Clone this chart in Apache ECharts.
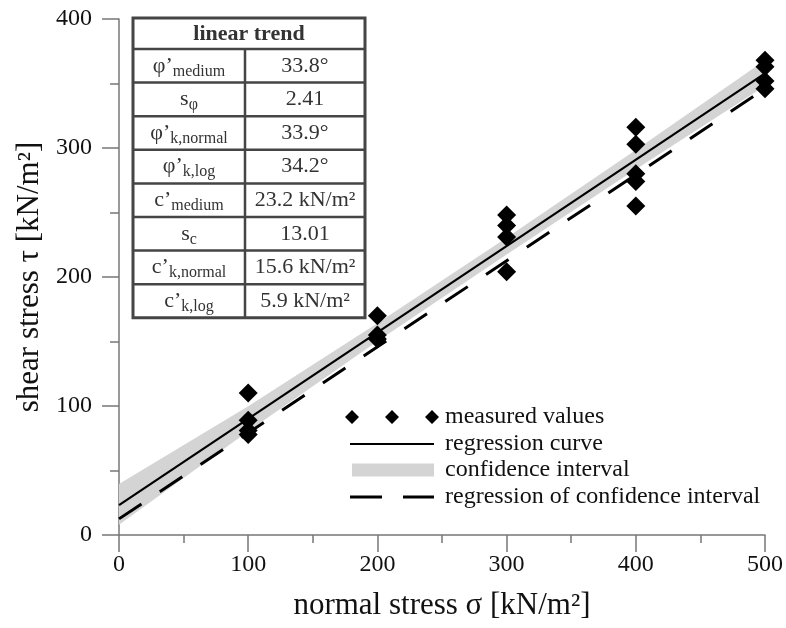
<!DOCTYPE html>
<html>
<head>
<meta charset="utf-8">
<script src="https://cdn.jsdelivr.net/npm/echarts@6/dist/echarts.min.js"></script>
<style>html,body{margin:0;padding:0;background:#fff;}#c{width:786px;height:628px;}</style>
</head>
<body>
<div id="c"></div>
<script>
// ---- data ----
const measuredX = [100,100,100,100, 200,200,200, 300,300,300,300, 400,400,400,400,400, 500,500,500,500];
const measuredY = [110,89,81,78, 170,155,152, 248,240,231,204, 316,303,280,274,255, 368,363,352,346];
const regX = [0, 500];
const regY = [23.2, 357.9];
const ciRegX = [0, 500];
const ciRegY = [12.5, 346];
const bandX = [0, 100, 200, 300, 400, 500];
const bandUpper = [39.5, 99.8, 164.1, 230.5, 298.5, 368];
const bandLower = [8.0, 80.4, 150.1, 217.5, 283.5, 348];
const xTicks = [0, 100, 200, 300, 400, 500];
const yTicks = [0, 100, 200, 300, 400];
const tableTitle = 'linear trend';
const tableSymbols = ['φ’', 's', 'φ’', 'φ’', 'c’', 's', 'c’', 'c’'];
const tableSubs = ['medium', 'φ', 'k,normal', 'k,log', 'medium', 'c', 'k,normal', 'k,log'];
const tableValues = ['33.8°', '2.41', '33.9°', '34.2°', '23.2 kN/m²', '13.01', '15.6 kN/m²', '5.9 kN/m²'];

const FONT = 'Liberation Serif';
const chart = echarts.init(document.getElementById('c'), null, {renderer: 'canvas'});

// ---- table graphic ----
const tX = 133, tY = 18, tW = 232, hH = 31, rH = 33.6, divX = 245;
const tH = hH + rH * tableValues.length;
const g = [];
g.push({type: 'rect', shape: {x: tX, y: tY, width: tW, height: tH}, style: {fill: '#fff', stroke: '#454545', lineWidth: 3}, z: 100});
for (let i = 0; i < tableValues.length; i++) {
  const y = tY + hH + rH * i;
  g.push({type: 'line', shape: {x1: tX, y1: y, x2: tX + tW, y2: y}, style: {stroke: '#454545', lineWidth: 2.5}, z: 101});
  const cy = y + rH / 2;
  g.push({type: 'text', z: 102, style: {
    text: '{a|' + tableSymbols[i] + '}{b|' + tableSubs[i] + '}',
    x: (tX + divX) / 2, y: cy, align: 'center', verticalAlign: 'middle',
    rich: {
      a: {fontFamily: FONT, fontSize: 22, fill: '#333', verticalAlign: 'middle'},
      b: {fontFamily: FONT, fontSize: 16, fill: '#333', padding: [11, 0, 0, 0], verticalAlign: 'middle'}
    }
  }});
  g.push({type: 'text', z: 102, style: {
    text: tableValues[i], x: (divX + tX + tW) / 2, y: cy, align: 'center', verticalAlign: 'middle',
    fontFamily: FONT, fontSize: 22, fill: '#333'
  }});
}
g.push({type: 'line', shape: {x1: divX, y1: tY + hH, x2: divX, y2: tY + tH}, style: {stroke: '#454545', lineWidth: 2.5}, z: 101});
g.push({type: 'text', z: 102, style: {text: tableTitle, x: tX + tW / 2, y: tY + hH / 2 + 1, align: 'center', verticalAlign: 'middle', fontFamily: FONT, fontSize: 22, fontWeight: 'bold', fill: '#333'}});

const legendText = {fontFamily: FONT, fontSize: 24, color: '#111'};
const axisLineStyle = {color: '#777', width: 1.5};

const option = {
  animation: false,
  backgroundColor: '#fff',
  textStyle: {fontFamily: FONT},
  grid: {left: 119, right: 21, top: 19, bottom: 93, containLabel: false},
  xAxis: {
    type: 'value', min: 0, max: 500, interval: 100,
    name: 'normal stress σ [kN/m²]', nameLocation: 'middle', nameGap: 55,
    nameTextStyle: {fontFamily: FONT, fontSize: 31, color: '#111'},
    axisLine: {show: true, onZero: false, lineStyle: axisLineStyle},
    axisTick: {show: true, inside: false, length: 17, lineStyle: axisLineStyle},
    minorTick: {show: true, splitNumber: 2, length: 8, lineStyle: axisLineStyle},
    axisLabel: {fontFamily: FONT, fontSize: 24, color: '#111', margin: 18,
      formatter: v => xTicks.includes(v) ? String(v) : ''},
    splitLine: {show: false}
  },
  yAxis: {
    type: 'value', min: 0, max: 400, interval: 100,
    name: 'shear stress τ [kN/m²]', nameLocation: 'middle', nameGap: 70,
    nameTextStyle: {fontFamily: FONT, fontSize: 31, color: '#111'},
    axisLine: {show: true, onZero: false, lineStyle: axisLineStyle},
    axisTick: {show: true, inside: false, length: 17, lineStyle: axisLineStyle},
    minorTick: {show: true, splitNumber: 2, length: 9, lineStyle: axisLineStyle},
    axisLabel: {fontFamily: FONT, fontSize: 24, color: '#111', margin: 27,
      formatter: v => yTicks.includes(v) ? String(v) : ''},
    splitLine: {show: false}
  },
  legend: [
    {data: [{name: 'measured values', icon: 'path://M7 0 L14 7 L7 14 L0 7 Z M47 0 L54 7 L47 14 L40 7 Z M87 0 L94 7 L87 14 L80 7 Z', itemStyle: {color: '#000'}}],
     left: 340, top: 400, itemWidth: 94, itemHeight: 14, selectedMode: false,
     textStyle: Object.assign({padding: [0, 0, 0, 1]}, legendText)},
    {data: [{name: 'regression curve', icon: 'path://M0 0 L84 0 L84 2 L0 2 Z', itemStyle: {color: '#000'}}],
     left: 345, top: 427, itemWidth: 84, itemHeight: 2, selectedMode: false,
     textStyle: Object.assign({padding: [0, 0, 0, 6]}, legendText)},
    {data: [{name: 'confidence interval', icon: 'rect', itemStyle: {color: '#d4d4d4', opacity: 1}}],
     left: 347, top: 453, itemWidth: 82, itemHeight: 13, selectedMode: false,
     textStyle: Object.assign({padding: [0, 0, 0, 6]}, legendText)},
    {data: [{name: 'regression of confidence interval', icon: 'path://M0 0 L32 0 L32 3 L0 3 Z M53 0 L84 0 L84 3 L53 3 Z', itemStyle: {color: '#000'}}],
     left: 345, top: 480, itemWidth: 84, itemHeight: 3, selectedMode: false,
     textStyle: Object.assign({padding: [0, 0, 0, 6]}, legendText)}
  ],
  graphic: g,
  series: [
    {name: 'confidence interval', type: 'custom', silent: true, z: 1,
     itemStyle: {color: '#d4d4d4'},
     encode: {x: 0, y: [1, 2]},
     data: bandX.map((x, i) => [x, bandLower[i], bandUpper[i]]),
     renderItem: function (params, api) {
       if (params.dataIndex !== 0) return null;
       const pts = [];
       for (let i = 0; i < bandX.length; i++) pts.push(api.coord([bandX[i], bandUpper[i]]));
       for (let i = bandX.length - 1; i >= 0; i--) pts.push(api.coord([bandX[i], bandLower[i]]));
       return {type: 'polygon', shape: {points: pts}, style: {fill: '#d4d4d4'}};
     }},
    {name: 'regression curve', type: 'line', symbol: 'none',
     data: regX.map((x, i) => [x, regY[i]]),
     lineStyle: {color: '#000', width: 2.2}, itemStyle: {color: '#000'}, z: 3},
    {name: 'regression of confidence interval', type: 'line', symbol: 'none',
     data: ciRegX.map((x, i) => [x, ciRegY[i]]),
     lineStyle: {color: '#000', width: 3, type: [27, 22]}, itemStyle: {color: '#000'}, z: 3},
    {name: 'measured values', type: 'scatter', symbol: 'diamond', symbolSize: 19,
     data: measuredX.map((x, i) => [x, measuredY[i]]),
     itemStyle: {color: '#000', opacity: 1}, z: 5}
  ]
};
chart.setOption(option);
</script>
</body>
</html>
